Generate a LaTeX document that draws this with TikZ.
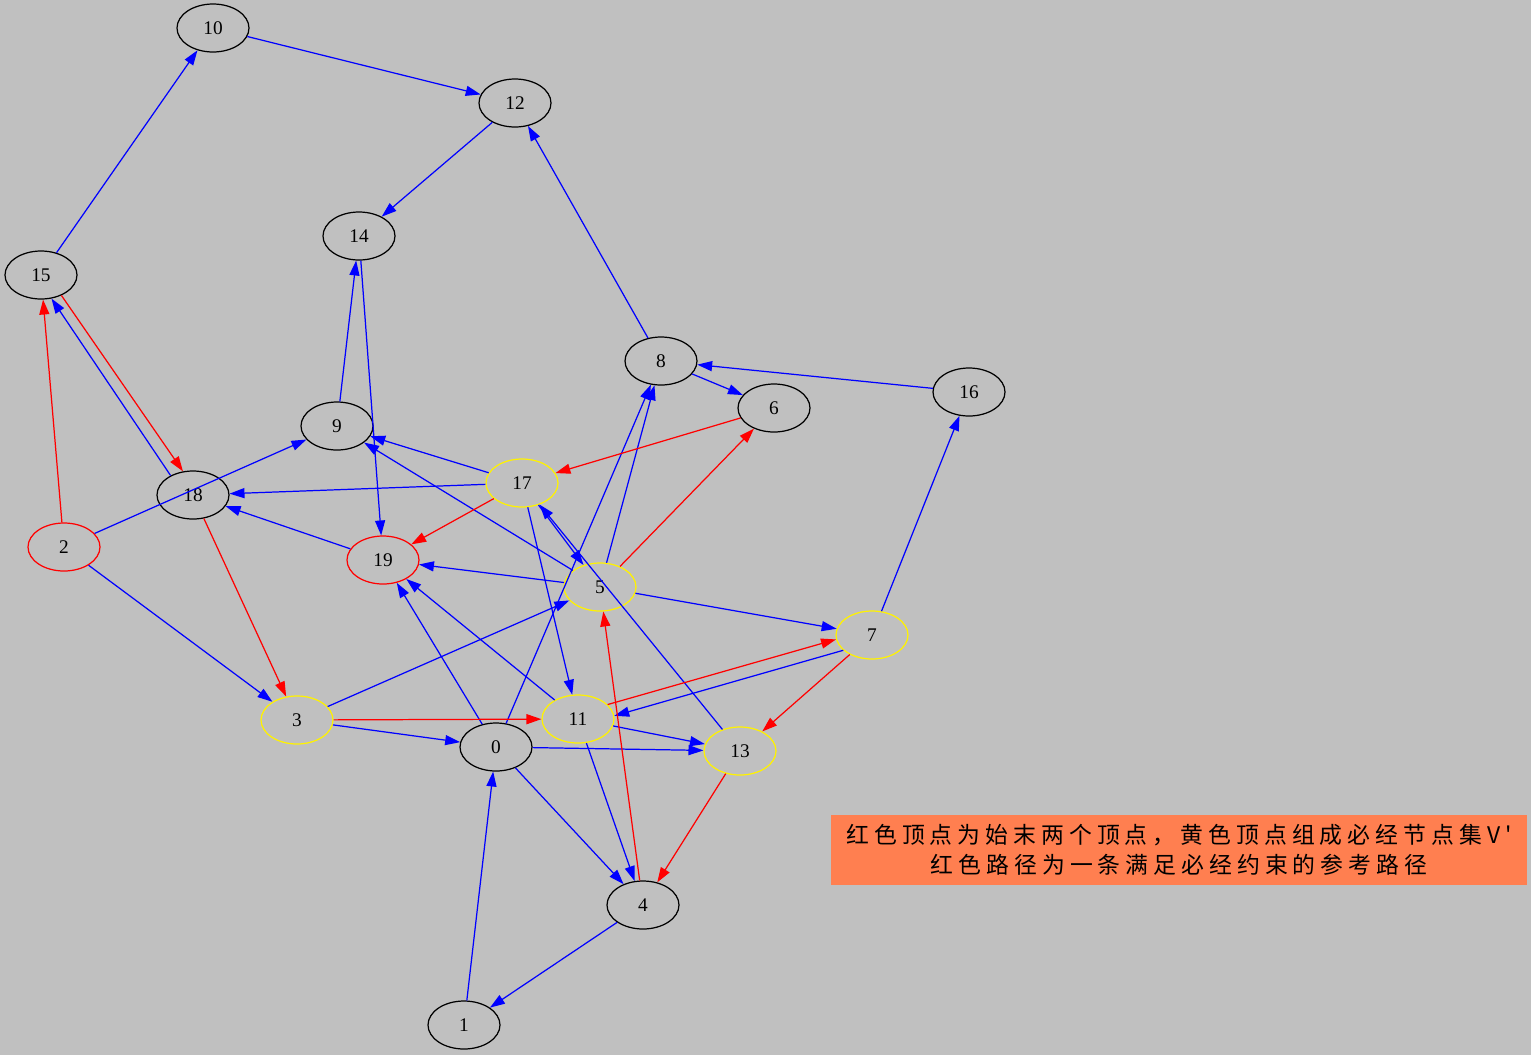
\documentclass[tikz,border=0pt]{standalone}
\usepackage{fontspec}
\setmainfont{Liberation Serif}
\newfontfamily\cjk[LetterSpace=22]{Noto Sans CJK SC}
\usetikzlibrary{arrows.meta,shapes.geometric}

\definecolor{bggray}{RGB}{192,192,192}
\definecolor{notecoral}{RGB}{255,127,80}

\tikzset{
  vert/.style={ellipse, draw=black, line width=0.7pt, minimum width=1.44cm, minimum height=0.96cm, inner sep=0pt, font=\fontsize{11}{13}\selectfont},
  endv/.style={vert, draw=red},
  mustv/.style={vert, draw=yellow},
  bedge/.style={draw=blue, line width=0.7pt, -{Triangle[length=8.5pt,width=5.7pt]}},
  redge/.style={bedge, draw=red},
}

\begin{document}
\begin{tikzpicture}[x=0.02cm,y=-0.02cm]
        \fill[bggray] (0,0) rectangle (1531,1055);

        \node[vert] (v0) at (496,747) {0};
        \node[vert] (v1) at (464,1025) {1};
        \node[endv] (v2) at (64,547) {2};
        \node[mustv] (v3) at (297,720) {3};
        \node[vert] (v4) at (643,905) {4};
        \node[mustv] (v5) at (600,587) {5};
        \node[vert] (v6) at (774,408) {6};
        \node[mustv] (v7) at (872,635) {7};
        \node[vert] (v8) at (661,361) {8};
        \node[vert] (v9) at (337,426) {9};
        \node[vert] (v10) at (213,28) {10};
        \node[mustv] (v11) at (578,719) {11};
        \node[vert] (v12) at (515,103) {12};
        \node[mustv] (v13) at (740,751) {13};
        \node[vert] (v14) at (359,236) {14};
        \node[vert] (v15) at (41,275) {15};
        \node[vert] (v16) at (969,392) {16};
        \node[mustv] (v17) at (522,483) {17};
        \node[vert] (v18) at (193,495) {18};
        \node[endv] (v19) at (383,560) {19};

        \foreach \a/\b in {15/10, 10/12, 12/14, 8/12, 9/14, 14/19, 2/9, 2/3, 17/18, 19/18,
                           17/9, 5/9, 5/19, 0/19, 11/19, 8/6, 16/8, 5/8, 0/8, 7/16, 5/7,
                           17/5, 13/17, 17/11, 3/5, 3/0, 11/13, 0/13, 11/4, 0/4, 4/1, 1/0}
            \draw[bedge] (v\a) -- (v\b);
        \draw[bedge] (v18.139) -- (v15.-66);
        \draw[bedge] (v7.208) -- (v11.5);

        % reference path
        \foreach \a/\b in {2/15, 18/3, 3/11, 7/13, 13/4, 4/5, 5/6, 6/17, 17/19}
            \draw[redge] (v\a) -- (v\b);
        \draw[redge] (v15.-45) -- (v18.113);
        \draw[redge] (v11.26) -- (v7.187);

        \node[fill=notecoral, minimum width=13.92cm, minimum height=1.4cm, inner sep=0pt, align=center,
              font=\cjk\fontsize{13}{17}\selectfont] (note) at (1179,850)
              {红色顶点为始末两个顶点，黄色顶点组成必经节点集V'\\红色路径为一条满足必经约束的参考路径};
    \end{tikzpicture}
\end{document}
